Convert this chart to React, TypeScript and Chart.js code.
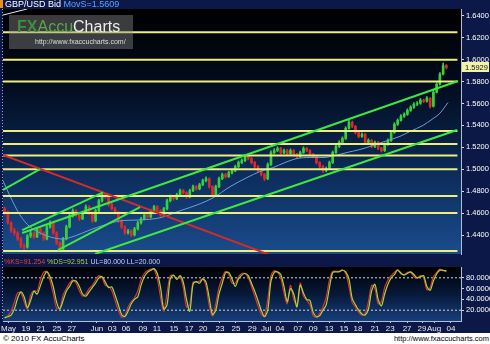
import { useEffect, useRef } from "react";
import { Chart, registerables } from "chart.js";

Chart.register(...registerables);

const FONT = "'Liberation Sans', Arial, sans-serif";

// ---------- price data (bars = half sessions) ----------
const firstOpen = 1.464;
const closes = [
  1.4603, 1.4511, 1.444, 1.4419, 1.4364, 1.43, 1.4291, 1.4392, 1.4419, 1.4383,
  1.4456, 1.4419, 1.4364, 1.4474, 1.4511, 1.4419, 1.4328, 1.4273, 1.4364, 1.4474,
  1.4575, 1.4621, 1.4584, 1.4548, 1.4603, 1.4658, 1.4603, 1.4529, 1.4621, 1.4713,
  1.4768, 1.4749, 1.4676, 1.464, 1.4603, 1.4529, 1.4474, 1.4419, 1.4437, 1.4401,
  1.4456, 1.4511, 1.4548, 1.4584, 1.4566, 1.4621, 1.4658, 1.4621, 1.4584, 1.464,
  1.4713, 1.4749, 1.4731, 1.4768, 1.4804, 1.4786, 1.4749, 1.4804, 1.4841, 1.4822,
  1.4859, 1.4896, 1.4914, 1.4841, 1.4768, 1.4841, 1.4914, 1.4951, 1.4933, 1.4969,
  1.4988, 1.5024, 1.5061, 1.5079, 1.5116, 1.5098, 1.5061, 1.5024, 1.4988, 1.4951,
  1.4914, 1.5043, 1.5153, 1.5171, 1.519, 1.5153, 1.5171, 1.5144, 1.5171, 1.5135,
  1.5116, 1.5153, 1.519, 1.5171, 1.5135, 1.5116, 1.5061, 1.5024, 1.4988, 1.5006,
  1.5061, 1.5153, 1.5208, 1.5245, 1.5281, 1.5373, 1.5428, 1.5391, 1.5336, 1.53,
  1.5318, 1.5245, 1.5263, 1.5208, 1.5245, 1.519, 1.5171, 1.5226, 1.5263, 1.5336,
  1.541, 1.5446, 1.5483, 1.5501, 1.5538, 1.5566, 1.5593, 1.5602, 1.563, 1.5621,
  1.5648, 1.5575, 1.5703, 1.5776, 1.5868, 1.5945, 1.5929,
];
const highs = [
  1.4655, 1.4618, 1.452, 1.4462, 1.4431, 1.438, 1.4318, 1.4405, 1.444, 1.443,
  1.447, 1.4468, 1.4428, 1.4488, 1.453, 1.452, 1.443, 1.434, 1.4378, 1.449,
  1.459, 1.464, 1.4632, 1.4595, 1.4615, 1.4675, 1.4668, 1.4612, 1.4635, 1.4728,
  1.4785, 1.478, 1.4758, 1.469, 1.4652, 1.4615, 1.454, 1.4485, 1.4452, 1.4448,
  1.447, 1.4525, 1.4562, 1.4598, 1.4595, 1.4635, 1.4672, 1.4668, 1.463, 1.4652,
  1.4728, 1.4765, 1.476, 1.4782, 1.482, 1.4815, 1.4795, 1.4818, 1.4855, 1.4852,
  1.4872, 1.491, 1.4932, 1.4922, 1.485, 1.4855, 1.4928, 1.4965, 1.4962, 1.4982,
  1.5002, 1.5038, 1.5075, 1.5095, 1.5132, 1.5128, 1.5108, 1.5072, 1.5035, 1.4998,
  1.4962, 1.5058, 1.5168, 1.5188, 1.5205, 1.52, 1.5185, 1.5182, 1.5186, 1.518,
  1.5145, 1.5166, 1.5205, 1.52, 1.518, 1.5145, 1.5125, 1.507, 1.5035, 1.502,
  1.5075, 1.5166, 1.5222, 1.526, 1.5296, 1.5388, 1.545, 1.544, 1.54, 1.5345,
  1.5332, 1.5328, 1.5278, 1.5272, 1.5258, 1.5255, 1.52, 1.524, 1.5278, 1.535,
  1.5425, 1.546, 1.5498, 1.5515, 1.5552, 1.558, 1.5608, 1.5618, 1.5645, 1.564,
  1.5662, 1.5655, 1.5718, 1.579, 1.5882, 1.5968, 1.5955,
];
const lows = [
  1.459, 1.4498, 1.4425, 1.44, 1.435, 1.4282, 1.4268, 1.428, 1.4378, 1.4368,
  1.4375, 1.4402, 1.435, 1.4355, 1.4462, 1.4405, 1.4315, 1.4255, 1.4262, 1.4355,
  1.4465, 1.4562, 1.457, 1.4532, 1.454, 1.4595, 1.459, 1.4515, 1.452, 1.4612,
  1.47, 1.4735, 1.4662, 1.4628, 1.459, 1.4515, 1.446, 1.4405, 1.4408, 1.4385,
  1.4392, 1.4445, 1.45, 1.4538, 1.4552, 1.4555, 1.461, 1.4608, 1.457, 1.4575,
  1.463, 1.4702, 1.4718, 1.4722, 1.4758, 1.4775, 1.4735, 1.474, 1.4795, 1.481,
  1.4812, 1.485, 1.4885, 1.4828, 1.4752, 1.476, 1.4832, 1.4905, 1.492, 1.4925,
  1.4958, 1.4978, 1.5015, 1.505, 1.507, 1.5085, 1.5048, 1.501, 1.4975, 1.4938,
  1.4895, 1.4905, 1.5035, 1.514, 1.516, 1.514, 1.5142, 1.5132, 1.5135, 1.5122,
  1.5102, 1.5108, 1.5145, 1.516, 1.5122, 1.5105, 1.5048, 1.501, 1.4972, 1.4978,
  1.4998, 1.5052, 1.5145, 1.5198, 1.5235, 1.5272, 1.5365, 1.538, 1.5322, 1.5288,
  1.529, 1.5232, 1.5235, 1.5195, 1.5198, 1.5178, 1.5158, 1.5162, 1.5218, 1.5255,
  1.5328, 1.54, 1.5438, 1.5472, 1.5492, 1.5528, 1.5555, 1.558, 1.5592, 1.5608,
  1.5612, 1.556, 1.5568, 1.5695, 1.5768, 1.586, 1.5915,
];

// moving average (read at bar positions)
const maX = [-0.5, 1.6, 4.7, 7.8, 10.9, 14, 17.7, 21.7, 26.3, 30.9, 35.5, 41.7, 47.8, 54, 60.2, 64.2, 69.4, 74.6, 78.6, 82.6, 86.3, 90, 94, 98, 101.7, 105.4, 109.4, 113.4, 117.1, 121.7, 124.8, 128.8, 131.6, 134, 136.5];
const maY = [1.4896, 1.4759, 1.4584, 1.4474, 1.4419, 1.4383, 1.4364, 1.4392, 1.4447, 1.4493, 1.4529, 1.4538, 1.4557, 1.4621, 1.4685, 1.474, 1.4841, 1.4924, 1.4979, 1.5015, 1.5061, 1.5098, 1.5107, 1.5107, 1.5125, 1.5153, 1.518, 1.5217, 1.5254, 1.53, 1.5345, 1.54, 1.5456, 1.5511, 1.5609];

// horizontal support / resistance levels
const levels = [1.625, 1.6, 1.58, 1.535, 1.523, 1.5125, 1.5, 1.4755, 1.46, 1.4255];

// trend lines: [[barStart, priceStart], [barEnd, priceEnd]]
const greenLines = [
  [[-0.5, 1.4811], [10.9, 1.5002]],
  [[5.4, 1.4418], [139.6, 1.5805]],
  [[5.4, 1.4445], [30.3, 1.4789]],
  [[27.8, 1.4227], [139.3, 1.5358]],
  [[16.4, 1.4263], [41.7, 1.4655]],
];
const redLine = [[-0.5, 1.513], [81.7, 1.4218]];
const whiteLine = [[-0.5, 1.6407], [6.9, 1.6462]];

const priceTicks = [1.44, 1.46, 1.48, 1.5, 1.52, 1.54, 1.56, 1.58, 1.6, 1.62, 1.64];

// stochastic
const stochD = [
  6, 8, 11, 22, 42, 54, 45, 25, 38, 55,
  50, 65, 82, 91, 82, 63, 35, 22, 38, 55,
  64, 74, 74, 64, 50, 46, 54, 62, 70, 80,
  82, 72, 62, 63, 48, 30, 12, 8, 18, 32,
  40, 45, 66, 82, 90, 94, 97, 88, 62, 22,
  30, 78, 85, 77, 84, 72, 40, 18, 68, 73,
  70, 78, 72, 42, 12, 20, 50, 70, 89, 90,
  78, 64, 78, 85, 88, 84, 70, 55, 38, 20,
  8, 20, 74, 90, 91, 86, 64, 36, 60, 50,
  26, 66, 52, 40, 38, 16, 8, 10, 20, 30,
  62, 90, 91, 91, 94, 91, 78, 42, 30, 20,
  13, 11, 22, 56, 68, 40, 28, 50, 68, 80,
  86, 94, 89, 85, 88, 91, 86, 80, 82, 84,
  64, 57, 74, 87, 94, 94, 92.95,
];
const stochK = [
  5, 10, 18, 35, 52, 52, 36, 22, 48, 56,
  55, 76, 90, 92, 74, 50, 24, 24, 48, 60,
  70, 76, 70, 56, 46, 50, 60, 66, 76, 84,
  80, 66, 64, 56, 38, 20, 7, 10, 26, 36,
  43, 56, 76, 88, 93, 96, 95, 78, 44, 18,
  52, 84, 84, 78, 82, 62, 26, 30, 72, 72,
  74, 78, 64, 28, 9, 32, 62, 80, 92, 86,
  70, 70, 82, 88, 88, 80, 64, 46, 28, 12,
  9, 40, 84, 93, 90, 80, 52, 32, 66, 40,
  30, 70, 46, 38, 30, 10, 7, 14, 26, 44,
  76, 92, 92, 92, 95, 88, 64, 34, 26, 16,
  11, 14, 36, 66, 60, 32, 36, 62, 76, 84,
  90, 95, 87, 86, 90, 90, 82, 79, 84, 80,
  58, 62, 82, 90, 96, 93, 91.25,
];
const stochLevels = [80, 20];
const stochTicks = [20, 40, 60, 80];

// date axis
const dateLabels = ["May", "19", "21", "25", "27", "Jun", "03", "06", "09", "11", "15", "17", "20", "23", "25", "29", "Jul", "04", "07", "09", "13", "15", "18", "21", "23", "27", "29", "Aug", "04"];
const datePos = [1.2, 6.6, 11.2, 16.1, 20.7, 28.4, 33.1, 37.4, 42.6, 46.9, 52.1, 56.8, 61.1, 66.3, 71.2, 76.2, 80.5, 84.8, 90.3, 95, 99.9, 104.5, 108.8, 114, 118.7, 123.9, 128.5, 132.2, 137.4];

// ---------- styles ----------
const NAVY = "#0b1848";
const UP = "#3ad03a";
const DOWN = "#e02a2a";
const GREEN = "#3ee83e";
const YELLOW = "#eeee78";
const X_MIN = -0.5;
const X_MAX = 140.5;
const LEVEL_END = 139.4;

function bgPlugin(id: string, stops: [number, string][]) {
  return {
    id,
    beforeDraw(chart: any) {
      const { ctx, chartArea: a } = chart;
      const g = ctx.createLinearGradient(0, a.top, 0, a.bottom);
      stops.forEach(([o, c]) => g.addColorStop(o, c));
      ctx.save();
      ctx.fillStyle = g;
      ctx.fillRect(a.left, a.top, a.right - a.left, a.bottom - a.top);
      ctx.restore();
    },
  };
}

const lastPricePlugin = {
  id: "lastPrice",
  afterDraw(chart: any) {
    const last = closes[closes.length - 1];
    const y = chart.scales.y.getPixelForValue(last);
    const x = chart.chartArea.right;
    const ctx = chart.ctx;
    ctx.save();
    ctx.fillStyle = "#f2f2a8";
    ctx.fillRect(x + 1, Math.round(y) - 5, 27, 10);
    ctx.fillStyle = "#10102a";
    ctx.font = `7.5px ${FONT}`;
    ctx.textBaseline = "middle";
    ctx.fillText(last.toFixed(4), x + 4, y + 0.5);
    ctx.restore();
  },
};

function zeroPad(s: any) {
  s.paddingTop = 0;
  s.paddingBottom = 0;
  s.paddingLeft = 0;
  s.paddingRight = 0;
}

function seg(points: number[][]) {
  return points.map(([x, y]) => ({ x, y }));
}

export default function App() {
  const mainRef = useRef<HTMLCanvasElement>(null);
  const stochRef = useRef<HTMLCanvasElement>(null);

  useEffect(() => {
    const opens = closes.map((c, i) => (i === 0 ? firstOpen : closes[i - 1]));
    const colors = closes.map((c, i) => (c >= opens[i] ? UP : DOWN));

    const lineBase = { type: "line" as const, pointRadius: 0, fill: false };

    const mainChart = new Chart(mainRef.current as HTMLCanvasElement, {
      type: "bar",
      data: {
        datasets: [
          ...greenLines.map((s) => ({ ...lineBase, data: seg(s), borderColor: GREEN, borderWidth: 2, order: 1 })),
          { ...lineBase, data: seg(redLine), borderColor: "#d42a2a", borderWidth: 2, order: 1 },
          { ...lineBase, data: seg(whiteLine), borderColor: "#e8e8e8", borderWidth: 1, order: 1 },
          ...levels.map((p) => ({
            ...lineBase,
            data: [{ x: X_MIN, y: p }, { x: LEVEL_END, y: p }],
            borderColor: YELLOW,
            borderWidth: 2,
            order: 2,
          })),
          {
            ...lineBase,
            data: maX.map((x, i) => ({ x, y: maY[i] })),
            borderColor: "#6c9fd6",
            borderWidth: 1,
            cubicInterpolationMode: "monotone",
            order: 2.5,
          },
          {
            type: "bar",
            data: closes.map((c, i) => ({ x: i, y: [lows[i], highs[i]] })),
            backgroundColor: colors,
            barThickness: 1,
            grouped: false,
            order: 4,
          },
          {
            type: "bar",
            data: closes.map((c, i) => ({ x: i, y: [opens[i], c] })),
            backgroundColor: colors,
            barThickness: 2,
            grouped: false,
            minBarLength: 1,
            order: 3,
          },
        ] as any,
      },
      options: {
        responsive: false,
        animation: false,
        devicePixelRatio: 1,
        layout: { padding: { left: 3, top: 9, bottom: 2, right: 0 } },
        plugins: { legend: { display: false }, tooltip: { enabled: false } },
        scales: {
          x: { type: "linear", min: X_MIN, max: X_MAX, display: false, offset: false, grid: { offset: false } },
          y: {
            type: "linear",
            position: "right",
            min: 1.4227,
            max: 1.6462,
            beginAtZero: false,
            afterBuildTicks: (s: any) => {
              s.ticks = priceTicks.map((v) => ({ value: v }));
            },
            afterFit: (s: any) => {
              s.width = 29;
              zeroPad(s);
            },
            ticks: {
              color: "#ffffff",
              font: { family: FONT, size: 7.5 },
              padding: 2,
              callback: (v: any) => Number(v).toFixed(4),
            },
            grid: { drawOnChartArea: false, drawTicks: true, tickLength: 3, color: "#d8d8e0" },
            border: { display: true, color: "#b8bcd0" },
          },
        },
      } as any,
      plugins: [
        bgPlugin("mainBg", [
          [0, "#000000"],
          [0.3, "#020b1c"],
          [0.65, "#0b2a58"],
          [1, "#1a4c8c"],
        ]),
        lastPricePlugin,
      ],
    });

    const stochChart = new Chart(stochRef.current as HTMLCanvasElement, {
      type: "line",
      data: {
        datasets: [
          ...stochLevels.map((v) => ({
            ...lineBase,
            data: [{ x: X_MIN, y: v }, { x: X_MAX, y: v }],
            borderColor: "#d0d4e0",
            borderWidth: 1,
            borderDash: [2, 2],
            order: 3,
          })),
          { ...lineBase, data: stochK.map((v, i) => ({ x: i, y: v })), borderColor: "#d83232", borderWidth: 1.2, tension: 0.3, order: 2 },
          { ...lineBase, data: stochD.map((v, i) => ({ x: i, y: v })), borderColor: "#a6d63c", borderWidth: 1.2, tension: 0.3, order: 1 },
        ] as any,
      },
      options: {
        responsive: false,
        animation: false,
        devicePixelRatio: 1,
        layout: { padding: { left: 3, top: 11, bottom: 0, right: 0 } },
        plugins: { legend: { display: false }, tooltip: { enabled: false } },
        scales: {
          x: {
            type: "linear",
            min: X_MIN,
            max: X_MAX,
            offset: false,
            afterBuildTicks: (s: any) => {
              s.ticks = datePos.map((v) => ({ value: v }));
            },
            afterFit: (s: any) => {
              s.height = 12;
              zeroPad(s);
            },
            ticks: {
              color: "#e8e8f0",
              font: { family: FONT, size: 8 },
              padding: 1,
              maxRotation: 0,
              minRotation: 0,
              autoSkip: false,
              callback: (v: any, i: number) => dateLabels[i],
            },
            grid: { drawOnChartArea: false, drawTicks: true, tickLength: 2, color: "#c8c8d8", offset: false },
            border: { display: true, color: "#b8bcd0" },
          },
          y: {
            type: "linear",
            position: "right",
            min: 0,
            max: 100,
            afterBuildTicks: (s: any) => {
              s.ticks = stochTicks.map((v) => ({ value: v }));
            },
            afterFit: (s: any) => {
              s.width = 29;
              zeroPad(s);
            },
            ticks: {
              color: "#ffffff",
              font: { family: FONT, size: 7.5 },
              padding: 2,
              callback: (v: any) => Number(v).toFixed(4),
            },
            grid: { drawOnChartArea: false, drawTicks: true, tickLength: 3, color: "#d8d8e0" },
            border: { display: true, color: "#b8bcd0" },
          },
        },
      } as any,
      plugins: [
        bgPlugin("stochBg", [
          [0, "#000000"],
          [0.5, "#07193a"],
          [1, "#163e7a"],
        ]),
      ],
    });

    return () => {
      mainChart.destroy();
      stochChart.destroy();
    };
  }, []);

  const abs = (o: any) => ({ position: "absolute" as const, ...o });

  return (
    <div style={abs({ left: 0, top: 0, width: 490, height: 344, background: "#ffffff", overflow: "hidden" })}>
      <div style={abs({ left: 0, top: 0, width: 490, height: 333, background: NAVY })} />
      <canvas ref={mainRef} width={490} height={256} style={abs({ left: 0, top: 0, width: 490, height: 256 })} />
      <canvas ref={stochRef} width={490} height={77} style={abs({ left: 0, top: 256, width: 490, height: 77 })} />

      {/* left dotted border */}
      <div style={abs({ left: 2, top: 9, width: 1, height: 312, background: "repeating-linear-gradient(to bottom, #9aa2c0 0px, #9aa2c0 1px, transparent 1px, transparent 3px)" })} />

      {/* title bar */}
      <div style={abs({ left: 0, top: 0, width: 3, height: 8, background: "#e8901c" })} />
      <div style={abs({ left: 5, top: -1, font: `9px ${FONT}`, lineHeight: "10px", whiteSpace: "nowrap", color: "#ffffff" })}>
        GBP/USD Bid <span style={{ color: "#5ea2ff" }}>MovS=1.5609</span>
      </div>

      {/* watermark */}
      <div style={abs({ left: 9, top: 15, width: 124, height: 34, background: "rgba(140,140,140,0.42)" })}>
        <div style={abs({ left: 8, top: 3, font: `16px ${FONT}`, lineHeight: "18px", whiteSpace: "nowrap" })}>
          <span style={{ color: "#3f8f3f", fontWeight: "bold" }}>FX</span>
          <span style={{ color: "#5aa84a" }}>Accu</span>
          <span style={{ color: "#ececec" }}>Charts</span>
        </div>
        <div style={abs({ left: 26, top: 22, font: `7px ${FONT}`, lineHeight: "9px", color: "#dcdcdc", whiteSpace: "nowrap" })}>
          http://www.fxaccucharts.com/
        </div>
      </div>

      {/* stochastic header */}
      <div style={abs({ left: 4, top: 256, font: `7px ${FONT}`, lineHeight: "11px", whiteSpace: "nowrap" })}>
        <span style={{ color: "#e8403a" }}>%KS=91.254</span>{" "}
        <span style={{ color: "#a8d040" }}>%DS=92.951</span>{" "}
        <span style={{ color: "#c8d0f0" }}>UL=80.000 LL=20.000</span>
      </div>

      {/* footer */}
      <div style={abs({ left: 3, top: 333, font: `8px ${FONT}`, lineHeight: "11px", color: "#000", whiteSpace: "nowrap" })}>
        © 2010 FX AccuCharts
      </div>
      <div style={abs({ right: 1, top: 333, font: `7.5px ${FONT}`, lineHeight: "11px", color: "#000", whiteSpace: "nowrap" })}>
        http://www.fxaccucharts.com
      </div>
    </div>
  );
}
